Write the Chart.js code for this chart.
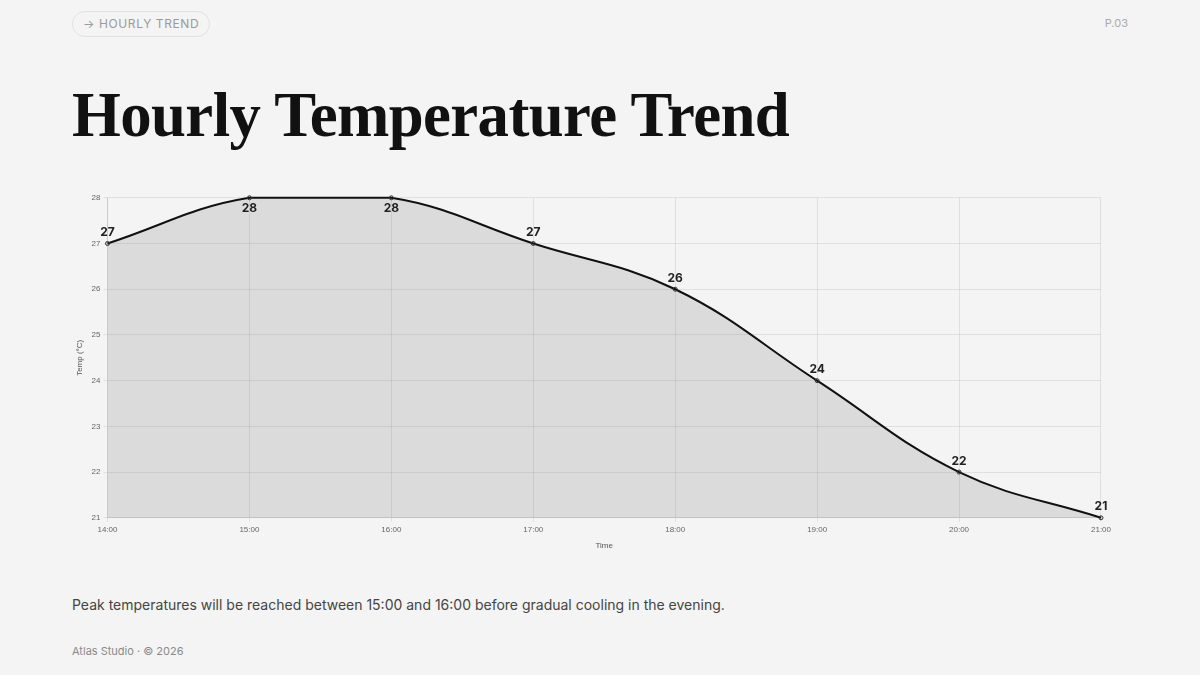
<!DOCTYPE html>
<html>
<head>
<meta charset="utf-8">
<script src="https://cdn.jsdelivr.net/npm/chart.js@4/dist/chart.umd.min.js"></script>
<style>
  html, body { margin:0; padding:0; background:#f4f4f4; }
  body { width:1200px; height:675px; position:relative; overflow:hidden; font-family:"Inter","DejaVu Sans",sans-serif; }
  .pill { position:absolute; left:72px; top:11px; height:24px; padding:0 10px; border:1px solid #e2e2e2; border-radius:13px;
          font-size:12px; letter-spacing:0.6px; color:#9a9a9a; line-height:24px; box-sizing:content-box; white-space:nowrap; }
  .page { position:absolute; right:72px; top:16px; font-size:11px; color:#aaa; }
  h1 { position:absolute; left:72px; top:77px; margin:0; font-family:"Liberation Serif","DejaVu Serif",serif; font-weight:700;
       font-size:62.8px; line-height:76px; color:#111; letter-spacing:-0.6px; white-space:nowrap; }
  .wrap { position:absolute; left:71px; top:190px; width:1043px; height:365px; }
  .caption { position:absolute; left:72px; top:596px; font-size:14px; color:#444; }
  .footer { position:absolute; left:72px; top:644px; font-size:11px; color:#8a8a8a; }
</style>
</head>
<body>
<div class="pill">→ HOURLY TREND</div>
<div class="page">P.03</div>
<h1>Hourly Temperature Trend</h1>
<div class="wrap"><canvas id="c"></canvas></div>
<div class="caption">Peak temperatures will be reached between 15:00 and 16:00 before gradual cooling in the evening.</div>
<div class="footer">Atlas Studio · © 2026</div>
<script>
const hours = ["14:00","15:00","16:00","17:00","18:00","19:00","20:00","21:00"];
const temps = [27, 28, 28, 27, 26, 24, 22, 21];
const yMin = 21, yMax = 28;

const valueLabels = {
  id: 'valueLabels',
  afterDatasetsDraw(chart) {
    const ctx = chart.ctx;
    const meta = chart.getDatasetMeta(0);
    ctx.save();
    ctx.font = 'bold 12px "Inter", "DejaVu Sans", sans-serif';
    ctx.fillStyle = '#222';
    ctx.textAlign = 'center';
    ctx.textBaseline = 'middle';
    meta.data.forEach((pt, i) => {
      const v = temps[i];
      const below = v >= yMax;
      ctx.fillText(String(v), pt.x, below ? pt.y + 11 : pt.y - 11);
    });
    ctx.restore();
  }
};

new Chart(document.getElementById('c'), {
  type: 'line',
  data: {
    labels: hours,
    datasets: [{
      data: temps,
      borderColor: '#111',
      borderWidth: 2,
      backgroundColor: 'rgba(0,0,0,0.1)',
      fill: true,
      tension: 0.4,
      clip: 4,
      pointRadius: 2,
      pointBackgroundColor: 'rgba(0,0,0,0.1)',
      pointBorderColor: '#333',
      pointBorderWidth: 1
    }]
  },
  options: {
    responsive: true,
    maintainAspectRatio: false,
    animation: false,
    plugins: { legend: { display:false }, tooltip: { enabled:false } },
    scales: {
      x: {
        title: { display:true, text:'Time', color:'#555', font:{ size:8 } },
        ticks: { color:'#666', font:{ size:8 } },
        grid: { color:'rgba(0,0,0,0.08)', tickLength:4 }
      },
      y: {
        min: yMin, max: yMax,
        title: { display:true, text:'Temp (°C)', color:'#555', font:{ size:8 } },
        ticks: { stepSize:1, color:'#666', font:{ size:8 } },
        grid: { color:'rgba(0,0,0,0.08)', tickLength:4 }
      }
    }
  },
  plugins: [valueLabels]
});
</script>
</body>
</html>
